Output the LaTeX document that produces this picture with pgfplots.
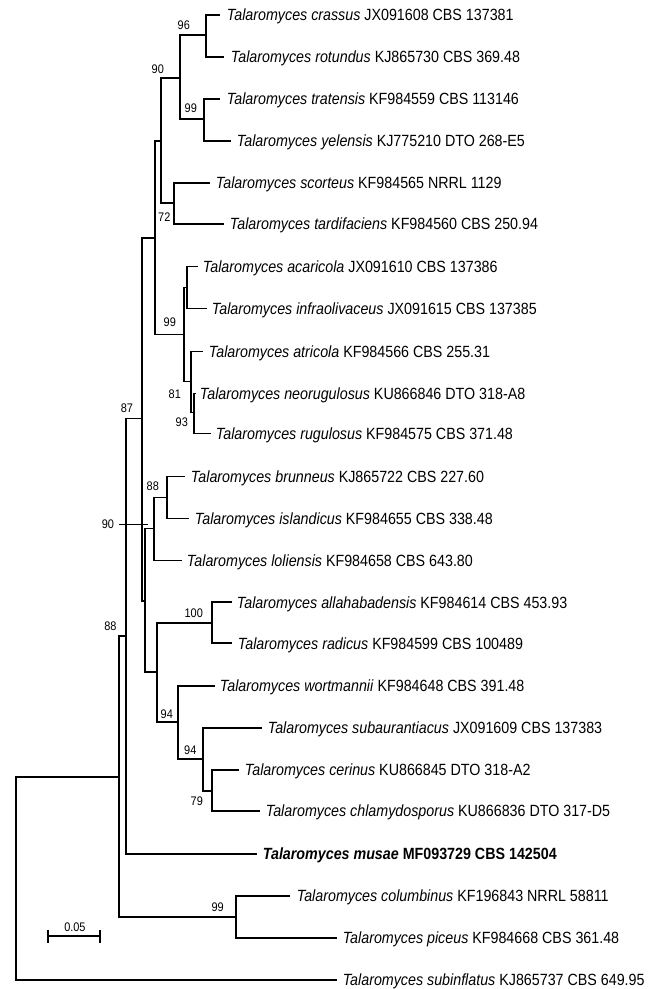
\documentclass[border=0pt]{standalone}
\usepackage{fontspec}
\setmainfont{Liberation Sans}[FakeStretch=0.88]
\usepackage{pgfplots}
\pgfplotsset{compat=1.18}
\newcommand{\lf}{\fontsize{16.3}{18}\selectfont}
\newcommand{\bsf}{\fontsize{12.5}{14}\selectfont}
\begin{document}
\begin{tikzpicture}
\begin{axis}[width=665bp, height=989bp, scale only axis,
  xmin=0, xmax=665, ymin=0, ymax=989, y dir=reverse,
  hide axis, clip=false, unbounded coords=jump]
\addplot[draw=none] coordinates {(0,0) (665,989)};
\addplot[black, line width=1.6bp, line join=miter] table[row sep=\\] {
x y\\
220 15\\ 206 15\\ 206 57\\ 224 57\\ nan nan\\
220 99\\ 204 99\\ 204 141\\ 231 141\\ nan nan\\
206 35\\ 180 35\\ 180 119\\ 204 119\\ nan nan\\
210 183\\ 174 183\\ 174 224\\ 224 224\\ nan nan\\
180 78\\ 161 78\\ 161 203\\ 174 203\\ nan nan\\
198 267\\ 187 267\\ 187 309\\ 207 309\\ nan nan\\
196 394\\ 194 394\\ 194 434\\ 211 434\\ nan nan\\
203 352\\ 191 352\\ 191 413\\ 194 413\\ nan nan\\
187 288\\ 184 288\\ 184 382\\ 191 382\\ nan nan\\
161 141\\ 155 141\\ 155 335\\ 184 335\\ nan nan\\
185 477\\ 167 477\\ 167 519\\ 189 519\\ nan nan\\
167 498\\ 154 498\\ 154 561\\ 182 561\\ nan nan\\
232 603\\ 212 603\\ 212 644\\ 232 644\\ nan nan\\
239 771\\ 212 771\\ 212 812\\ 260 812\\ nan nan\\
262 729\\ 203 729\\ 203 792\\ 212 792\\ nan nan\\
215 687\\ 178 687\\ 178 760\\ 203 760\\ nan nan\\
212 624\\ 157 624\\ 157 723\\ 178 723\\ nan nan\\
154 529\\ 145 529\\ 145 673\\ 157 673\\ nan nan\\
155 238\\ 142 238\\ 142 602\\ 145 602\\ nan nan\\
142 419\\ 126 419\\ 126 855\\ 257 855\\ nan nan\\
290 897\\ 236 897\\ 236 939\\ 337 939\\ nan nan\\
126 637\\ 119 637\\ 119 918\\ 236 918\\ nan nan\\
119 778\\ 16 778\\ 16 981\\ 337 981\\ nan nan\\
119 525\\ 148 525\\ nan nan\\
48 937\\ 100 937\\ nan nan\\
48 931\\ 48 944\\ nan nan\\
100 931\\ 100 944\\
};
% leaf labels
\begin{scope}[every node/.style={anchor=base west, inner sep=0pt}]
\node at (axis cs:227,20.8) {\lf\textit{Talaromyces crassus} JX091608 CBS 137381};
\node at (axis cs:231,62.8) {\lf\textit{Talaromyces rotundus} KJ865730 CBS 369.48};
\node at (axis cs:227,104.8) {\lf\textit{Talaromyces tratensis} KF984559 CBS 113146};
\node at (axis cs:237,146.8) {\lf\textit{Talaromyces yelensis} KJ775210 DTO 268-E5};
\node at (axis cs:216,188.8) {\lf\textit{Talaromyces scorteus} KF984565 NRRL 1129};
\node at (axis cs:230,229.8) {\lf\textit{Talaromyces tardifaciens} KF984560 CBS 250.94};
\node at (axis cs:203,272.8) {\lf\textit{Talaromyces acaricola} JX091610 CBS 137386};
\node at (axis cs:212,314.8) {\lf\textit{Talaromyces infraolivaceus} JX091615 CBS 137385};
\node at (axis cs:209,357.8) {\lf\textit{Talaromyces atricola} KF984566 CBS 255.31};
\node at (axis cs:200,399.8) {\lf\textit{Talaromyces neorugulosus} KU866846 DTO 318-A8};
\node at (axis cs:216,439.8) {\lf\textit{Talaromyces rugulosus} KF984575 CBS 371.48};
\node at (axis cs:191,482.8) {\lf\textit{Talaromyces brunneus} KJ865722 CBS 227.60};
\node at (axis cs:195,524.8) {\lf\textit{Talaromyces islandicus} KF984655 CBS 338.48};
\node at (axis cs:187,566.8) {\lf\textit{Talaromyces loliensis} KF984658 CBS 643.80};
\node at (axis cs:237,608.8) {\lf\textit{Talaromyces allahabadensis} KF984614 CBS 453.93};
\node at (axis cs:238,649.8) {\lf\textit{Talaromyces radicus} KF984599 CBS 100489};
\node at (axis cs:220,692.8) {\lf\textit{Talaromyces wortmannii} KF984648 CBS 391.48};
\node at (axis cs:268,734.8) {\lf\textit{Talaromyces subaurantiacus} JX091609 CBS 137383};
\node at (axis cs:245,776.8) {\lf\textit{Talaromyces cerinus} KU866845 DTO 318-A2};
\node at (axis cs:266,817.8) {\lf\textit{Talaromyces chlamydosporus} KU866836 DTO 317-D5};
\node at (axis cs:263,860.8) {\lf\bfseries\itshape Talaromyces musae\upshape\ MF093729 CBS 142504};
\node at (axis cs:297,902.8) {\lf\textit{Talaromyces columbinus} KF196843 NRRL 58811};
\node at (axis cs:343,944.8) {\lf\textit{Talaromyces piceus} KF984668 CBS 361.48};
\node at (axis cs:343,986.8) {\lf\textit{Talaromyces subinflatus} KJ865737 CBS 649.95};
\end{scope}
% bootstrap values
\begin{scope}[every node/.style={anchor=center, inner sep=0pt}]
\node at (axis cs:184,25.3) {\bsf 96};
\node at (axis cs:158,69.5) {\bsf 90};
\node at (axis cs:191,108.8) {\bsf 99};
\node at (axis cs:164.5,217) {\bsf 72};
\node at (axis cs:170,322.8) {\bsf 99};
\node at (axis cs:175,394.5) {\bsf 81};
\node at (axis cs:182,422.8) {\bsf 93};
\node at (axis cs:127,408.7) {\bsf 87};
\node at (axis cs:153,487) {\bsf 88};
\node at (axis cs:108,525.3) {\bsf 90};
\node at (axis cs:110.5,627.3) {\bsf 88};
\node at (axis cs:194,614) {\bsf 100};
\node at (axis cs:167,714.7) {\bsf 94};
\node at (axis cs:190.5,751.3) {\bsf 94};
\node at (axis cs:197,802) {\bsf 79};
\node at (axis cs:218,908.7) {\bsf 99};
\node at (axis cs:75,928) {\bsf 0.05};
\end{scope}
\end{axis}
\end{tikzpicture}
\end{document}
